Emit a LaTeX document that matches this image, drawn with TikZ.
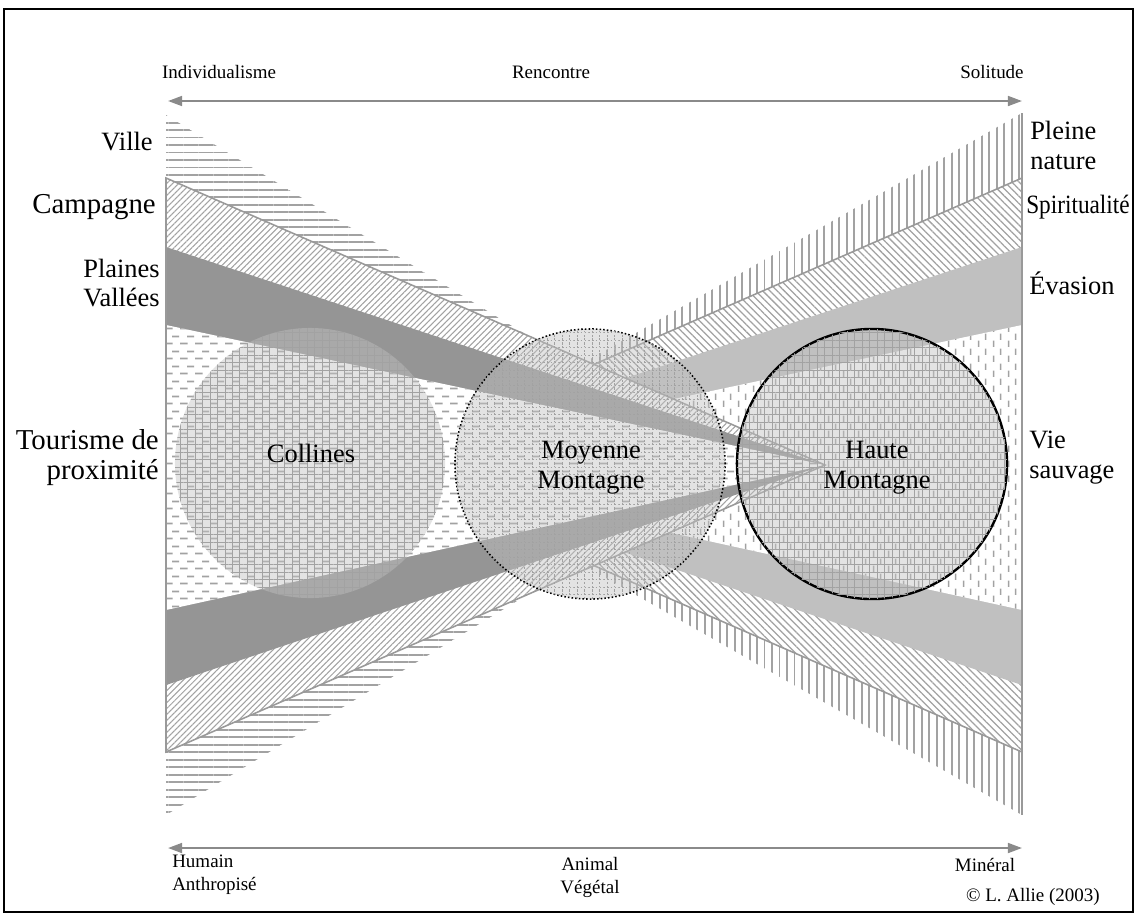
\documentclass[tikz,border=0pt]{standalone}
\usepackage{fontspec}
\usepackage{graphicx}
\setmainfont{Liberation Serif}
\usetikzlibrary{patterns.meta,arrows.meta}

\definecolor{patgray}{HTML}{A2A2A2}
\definecolor{edgegray}{HTML}{999999}
\definecolor{darkband}{HTML}{959595}
\definecolor{lightband}{HTML}{C0C0C0}
\definecolor{discgray}{HTML}{C2C2C2}
\definecolor{axisgray}{HTML}{8A8A8A}

% short dashes, staggered rows / columns
\tikzdeclarepattern{
  name=HDashes, type=uncolored,
  bounding box={(0pt,0pt) and (10.67pt,10.67pt)},
  tile size={(10.67pt,10.67pt)},
  code={
    \draw[line width=1.3pt] (0pt,2.67pt) -- (5.8pt,2.67pt);
    \draw[line width=1.3pt] (5.33pt,8pt) -- (10.67pt,8pt);
  }
}
\tikzdeclarepattern{
  name=VDashes, type=uncolored,
  bounding box={(0pt,0pt) and (10.67pt,10.67pt)},
  tile size={(10.67pt,10.67pt)},
  code={
    \draw[line width=1.1pt] (2.67pt,0pt) -- (2.67pt,4.8pt);
    \draw[line width=1.1pt] (8pt,5.33pt) -- (8pt,10.13pt);
  }
}

\tikzset{
  zone/.style={preaction={fill=white}, pattern color=patgray},
  ville/.style={zone, pattern={Lines[angle=0,distance=5.33pt,line width=1.4pt]}},
  nature/.style={zone, pattern={Lines[angle=90,distance=5.33pt,line width=1.4pt]}},
  campagne/.style={zone, pattern={Lines[angle=45,distance=3pt,line width=0.75pt]}},
  spirit/.style={zone, pattern={Lines[angle=-45,distance=3.6pt,line width=0.9pt]}},
  plaines/.style={fill=darkband},
  evasion/.style={fill=lightband},
  tourisme/.style={zone, pattern=HDashes},
  sauvage/.style={zone, pattern=VDashes},
  rim/.style={draw=edgegray, line width=1.1pt},
  relief/.style={circle, minimum size=6.75cm, inner sep=0pt,
    fill=discgray, fill opacity=0.45,
    postaction={pattern={Hatch[angle=0,distance=5.33pt,line width=0.5pt]},
      pattern color=patgray, fill opacity=0.3}},
  axis/.style={draw=axisgray, line width=1.5pt,
    {Triangle[length=10pt,width=7pt]}-{Triangle[length=10pt,width=7pt]}},
  bigtxt/.style={font=\fontsize{18.8}{21.3}\selectfont, inner sep=0pt},
  hugetxt/.style={font=\fontsize{20.5}{21.3}\selectfont, inner sep=0pt},
  smalltxt/.style={font=\fontsize{13.5}{16.4}\selectfont, inner sep=0pt},
}

\begin{document}
\begin{tikzpicture}[x=0.025cm, y=-0.025cm] % one unit = one pixel, y downwards
  \useasboundingbox (0,0) rectangle (1136,917);

  % --- Frame ---
  \draw[line width=1.8pt] (4,9) rectangle (1133,912);

  % --- Coordinates ---
  % left edge (x = 166), the wedges point to the right
  \coordinate (Va) at (166,115);  \coordinate (Vb) at (166,815);
  \coordinate (Ca) at (166,178);  \coordinate (Cb) at (166,752);
  \coordinate (Pa) at (166,247);  \coordinate (Pb) at (166,685);
  \coordinate (Ta) at (166,325);  \coordinate (Tb) at (166,610);
  \coordinate (Vp) at (740,465);  % tip of Ville
  \coordinate (Lp) at (825,465);  % common tip, left wedges
  % right edge (x = 1022), the wedges point to the left
  \coordinate (Na) at (1022,113); \coordinate (Nb) at (1022,815);
  \coordinate (Sa) at (1022,178); \coordinate (Sb) at (1022,752);
  \coordinate (Ea) at (1022,247); \coordinate (Eb) at (1022,685);
  \coordinate (Wa) at (1022,325); \coordinate (Wb) at (1022,610);
  \coordinate (Np) at (406,464);  % tip of Pleine nature
  \coordinate (Rp) at (363,465);  % common tip, right wedges

  % --- Right wedges (beneath) ---
  \fill[nature] (Na) -- (Np) -- (Nb) -- cycle;
  \fill[spirit] (Sa) -- (Rp) -- (Sb) -- cycle;
  \fill[evasion] (Ea) -- (Rp) -- (Eb) -- cycle;
  \fill[sauvage] (Wa) -- (Rp) -- (Wb) -- cycle;
  \draw[rim] (Sa) -- (Rp) -- (Sb) -- cycle;
  \draw[rim] (Na) -- (Nb);

  % --- Left wedges (on top) ---
  \fill[ville] (Va) -- (Vp) -- (Vb) -- cycle;
  \fill[campagne] (Ca) -- (Lp) -- (Cb) -- cycle;
  \fill[plaines] (Pa) -- (Lp) -- (Pb) -- cycle;
  \fill[tourisme] (Ta) -- (Lp) -- (Tb) -- cycle;
  \draw[rim] (Ca) -- (Lp) -- (Cb) -- cycle;

  % --- Relief discs ---
  \node[relief] (collines) at (310,463) {};
  \node[relief, draw=black, draw opacity=1, line width=1.1pt,
        dash pattern=on 1.1pt off 1.5pt] (moyenne) at (590,464) {};
  \node[relief, draw=black, draw opacity=1, line width=1.7pt] (haute) at (872,464) {};

  \node[bigtxt] (collines-txt) at (311,453) {Collines};
  \node[bigtxt, align=center] (moyenne-txt) at (591,468) {Moyenne\\Montagne};
  \node[bigtxt, align=center] (haute-txt) at (877,468) {Haute\\Montagne};

  % --- Axes ---
  \coordinate (topL) at (168,101);  \coordinate (topR) at (1022,101);
  \coordinate (botL) at (168,848);  \coordinate (botR) at (1022,848);
  \draw[axis] (topL) -- (topR);
  \draw[axis] (botL) -- (botR);

  \node[smalltxt] (indiv) at (219,72) {Individualisme};
  \node[smalltxt] (rencontre) at (551,72) {Rencontre};
  \node[smalltxt] (solitude) at (992,72) {Solitude};
  \node[smalltxt, anchor=west, align=left] (humain) at (172,875) {Humain\\Anthropisé};
  \node[smalltxt, align=center] (animal) at (590,877) {Animal\\Végétal};
  \node[smalltxt] (mineral) at (985,865) {Minéral};
  \node[smalltxt, anchor=east] (copyright) at (1100,897) {© L. Allie (2003)};

  % --- Side labels ---
  \node[bigtxt, anchor=east] (ville) at (153,142) {Ville};
  \node[hugetxt, anchor=east] (campagne) at (156,207) {Campagne};
  \node[bigtxt, anchor=east, align=left] (plaines) at (160,283) {Plaines\\Vallées};
  \node[hugetxt, anchor=east, align=right] (tourisme) at (159,458) {Tourisme de\\proximité};
  \node[bigtxt, anchor=west, align=left] (pleine) at (1030,145) {Pleine\\nature};
  \node[bigtxt, anchor=west] (spiritualite) at (1026,207) {\scalebox{0.88}[1]{Spiritualité}};
  \node[bigtxt, anchor=west] (evasion) at (1029,283) {Évasion};
  \node[bigtxt, anchor=west, align=left] (sauvage) at (1029,458) {Vie\\sauvage};
\end{tikzpicture}
\end{document}
